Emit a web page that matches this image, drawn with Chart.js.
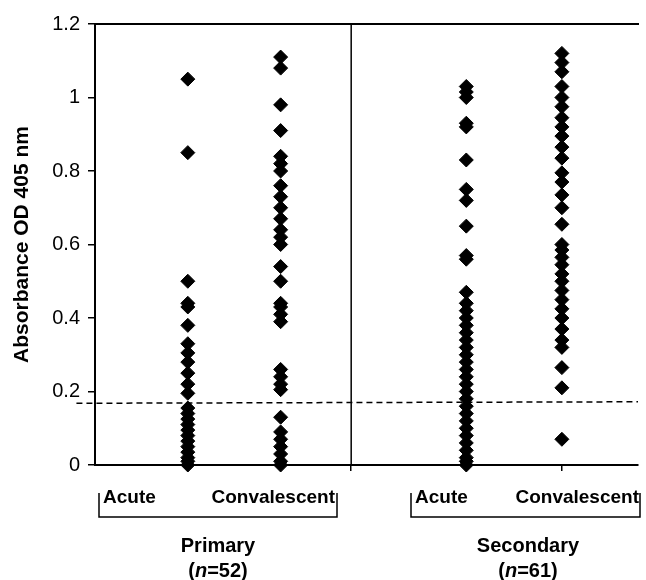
<!DOCTYPE html>
<html>
<head>
<meta charset="utf-8">
<script src="https://cdn.jsdelivr.net/npm/chart.js@4"></script>
<style>
  body { margin: 0; background: #fff; }
  #wrap { width: 646px; height: 580px; position: relative; }
</style>
</head>
<body>
<div id="wrap"><canvas id="chart"></canvas></div>
<script>
const groupNames = ['Primary', 'Secondary'];
const groupCounts = [52, 61];
const columnNames = ['Acute', 'Convalescent', 'Acute', 'Convalescent'];
const columnX = [1, 2, 4, 5.03];
const dividerX = 2.76;
const cutoff = [0.168, 0.172];
const yTicks = [0, 0.2, 0.4, 0.6, 0.8, 1, 1.2];

const primaryAcute = [1.05, 0.85, 0.50, 0.44, 0.43, 0.38, 0.33, 0.305, 0.28, 0.25, 0.22, 0.195,
  0.155, 0.14, 0.125, 0.11, 0.095, 0.08, 0.065, 0.05, 0.035, 0.02, 0.01, 0.0];
const primaryConv = [1.11, 1.08, 0.98, 0.91, 0.84, 0.82, 0.80, 0.76, 0.73, 0.70, 0.67, 0.64,
  0.62, 0.60, 0.54, 0.50, 0.44, 0.43, 0.41, 0.39, 0.26, 0.24, 0.22, 0.205, 0.13, 0.09, 0.07,
  0.05, 0.03, 0.01, 0.0];
const secondaryAcute = [1.03, 1.015, 1.0, 0.93, 0.92, 0.83, 0.75, 0.72, 0.65, 0.57, 0.56, 0.47,
  0.44, 0.42, 0.40, 0.38, 0.36, 0.34, 0.32, 0.30, 0.28, 0.26, 0.24, 0.22, 0.20, 0.18, 0.16,
  0.14, 0.12, 0.10, 0.08, 0.06, 0.04, 0.02, 0.01, 0.0];
const secondaryConv = [1.12, 1.095, 1.07, 1.03, 1.0, 0.975, 0.945, 0.92, 0.895, 0.865, 0.835,
  0.795, 0.77, 0.735, 0.70, 0.655, 0.60, 0.585, 0.565, 0.545, 0.52, 0.50, 0.475, 0.45, 0.425,
  0.40, 0.37, 0.34, 0.32, 0.265, 0.21, 0.07];

const columns = [primaryAcute, primaryConv, secondaryAcute, secondaryConv];
const xMax = 5.85;
const ink = '#000';
const fontFamily = '"Liberation Sans", Arial, Helvetica, sans-serif';

function pointsFor(values, x) {
  return values.map((y) => ({ x, y }));
}

const scatterSets = columns.map((values, i) => ({
  label: columnNames[i],
  data: pointsFor(values, columnX[i]),
  pointStyle: 'rectRot',
  pointRadius: 7,
  pointBackgroundColor: ink,
  pointBorderColor: ink,
  pointBorderWidth: 1,
  showLine: false,
  clip: false
}));

const cutoffSet = {
  label: 'cutoff',
  data: [{ x: -0.2, y: cutoff[0] }, { x: xMax, y: cutoff[1] }],
  showLine: true,
  borderColor: ink,
  borderWidth: 1.5,
  borderDash: [6, 4],
  pointRadius: 0,
  clip: false
};

const dividerSet = {
  label: 'divider',
  data: [{ x: dividerX, y: 0 }, { x: dividerX, y: 1.2 }],
  showLine: true,
  borderColor: ink,
  borderWidth: 1.5,
  pointRadius: 0,
  clip: false
};

// bottom category labels, brackets and group names
const groupLabels = {
  id: 'groupLabels',
  afterDraw(chart) {
    const { ctx, chartArea } = chart;
    const base = chartArea.bottom;
    const brackets = [
      { left: 99, right: 337, cols: [[103, 'left'], [335, 'right']] },
      { left: 411, right: 640, cols: [[415, 'left'], [639, 'right']] }
    ];

    ctx.save();
    ctx.fillStyle = ink;
    ctx.strokeStyle = ink;
    ctx.lineWidth = 1.5;

    brackets.forEach((b, gi) => {
      ctx.beginPath();
      ctx.moveTo(b.left, base + 28);
      ctx.lineTo(b.left, base + 52);
      ctx.lineTo(b.right, base + 52);
      ctx.lineTo(b.right, base + 28);
      ctx.stroke();

      ctx.font = `bold 19px ${fontFamily}`;
      ctx.textBaseline = 'middle';
      b.cols.forEach(([x, align], ci) => {
        ctx.textAlign = align;
        ctx.fillText(columnNames[gi * 2 + ci], x, base + 33);
      });

      const cx = gi === 0 ? 218 : 528;
      ctx.textAlign = 'center';
      ctx.font = `bold 20px ${fontFamily}`;
      ctx.fillText(groupNames[gi], cx, base + 81);

      const open = '(';
      const nText = 'n';
      const rest = `=${groupCounts[gi]})`;
      ctx.font = `bold 20px ${fontFamily}`;
      const wOpen = ctx.measureText(open).width;
      const wRest = ctx.measureText(rest).width;
      ctx.font = `italic bold 20px ${fontFamily}`;
      const wN = ctx.measureText(nText).width;
      let x = cx - (wOpen + wN + wRest) / 2;
      ctx.textAlign = 'left';
      ctx.font = `bold 20px ${fontFamily}`;
      ctx.fillText(open, x, base + 106);
      x += wOpen;
      ctx.font = `italic bold 20px ${fontFamily}`;
      ctx.fillText(nText, x, base + 106);
      x += wN;
      ctx.font = `bold 20px ${fontFamily}`;
      ctx.fillText(rest, x, base + 106);
    });
    ctx.restore();
  }
};

new Chart(document.getElementById('chart'), {
  type: 'scatter',
  data: { datasets: [...scatterSets, cutoffSet, dividerSet] },
  options: {
    responsive: true,
    maintainAspectRatio: false,
    animation: false,
    layout: { padding: { top: 24, right: 6, bottom: 109, left: 0 } },
    plugins: { legend: { display: false }, tooltip: { enabled: false } },
    scales: {
      x: {
        type: 'linear',
        min: 0,
        max: xMax,
        afterBuildTicks: (scale) => {
          scale.ticks = [{ value: dividerX }, { value: columnX[3] }];
        },
        ticks: { display: false },
        grid: { drawOnChartArea: false, drawTicks: true, tickLength: 6, color: ink, lineWidth: 1.5 },
        border: { color: ink, width: 2 }
      },
      x2: {
        type: 'linear',
        position: 'top',
        min: 0,
        max: xMax,
        ticks: { display: false },
        grid: { display: false, drawTicks: false },
        border: { color: ink, width: 2 }
      },
      y: {
        min: 0,
        max: 1.2,
        afterBuildTicks: (scale) => {
          scale.ticks = yTicks.map((value) => ({ value }));
        },
        afterFit: (scale) => {
          scale.width = 95;
        },
        ticks: {
          color: ink,
          font: { family: fontFamily, size: 20 },
          padding: 8,
          callback: (value) => String(value)
        },
        grid: { drawOnChartArea: false, tickLength: 7, color: ink, lineWidth: 1.5 },
        border: { color: ink, width: 2 },
        title: {
          display: true,
          text: 'Absorbance OD 405 nm',
          color: ink,
          font: { family: fontFamily, size: 21, weight: 'bold' },
          padding: { top: 10, bottom: 0 }
        }
      }
    }
  },
  plugins: [groupLabels]
});
</script>
</body>
</html>
